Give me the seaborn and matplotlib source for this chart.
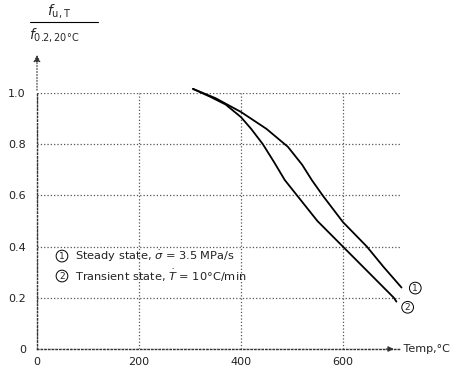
import numpy as np
import pandas as pd
import matplotlib
matplotlib.use("Agg")
import matplotlib.pyplot as plt
import seaborn as sns

# dados
temp_steady = [306, 350, 400, 450, 492, 520, 539, 561, 600, 647, 680, 715]
fu_steady = [1.016, 0.98, 0.926, 0.86, 0.79, 0.72, 0.66, 0.598, 0.496, 0.40, 0.32, 0.24]

temp_trans = [306, 340, 370, 400, 420, 443, 465, 486, 510, 550, 600, 650, 700, 705]
fu_trans = [1.016, 0.985, 0.955, 0.906, 0.86, 0.80, 0.73, 0.66, 0.60, 0.50, 0.40, 0.30, 0.20, 0.185]

x_ticks = [0, 200, 400, 600]
y_ticks = [0, 0.2, 0.4, 0.6, 0.8, 1.0]
y_labels = ["0", "0.2", "0.4", "0.6", "0.8", "1.0"]

df = pd.concat([
    pd.DataFrame({"temp": temp_steady, "fu": fu_steady, "curva": "1"}),
    pd.DataFrame({"temp": temp_trans, "fu": fu_trans, "curva": "2"}),
])

sns.set_style("white")
plt.rcParams["font.family"] = ["DejaVu Sans"]

fig = plt.figure(figsize=(4.52, 3.74), dpi=100)
ax = fig.add_axes([37 / 452, 25 / 374, 363 / 452, 256 / 374])

sns.lineplot(data=df, x="temp", y="fu", hue="curva", palette=["black", "black"],
             linewidth=1.3, legend=False, ax=ax, sort=False, clip_on=False)

ax.set_xlim(0, 712)
ax.set_ylim(0, 1.0)
ax.set_xticks(x_ticks)
ax.set_yticks(y_ticks)
ax.set_yticklabels(y_labels)
ax.set_xlabel("")
ax.set_ylabel("")
ax.tick_params(axis="x", length=0, pad=6, labelsize=8, colors="#222222")
ax.tick_params(axis="y", length=4, width=0.8, pad=4, labelsize=8, colors="#222222")
ax.grid(True, color="#555555", linestyle=":", linewidth=0.9)

for s in ["top", "right"]:
    ax.spines[s].set_visible(False)
for s in ["left", "bottom"]:
    ax.spines[s].set_linestyle(":")
    ax.spines[s].set_color("#333333")
    ax.spines[s].set_linewidth(1.0)

# setas dos eixos
ax.annotate("", xy=(0, 1.16), xytext=(0, 1.0), annotation_clip=False,
            arrowprops=dict(arrowstyle="-|>", color="#333333", lw=0.8,
                            linestyle=":", mutation_scale=10))
ax.annotate("", xy=(705, 0), xytext=(680, 0), annotation_clip=False,
            arrowprops=dict(arrowstyle="-|>", color="#333333", lw=0.8,
                            mutation_scale=8))
ax.text(712, 0, " Temp,°C", fontsize=8, va="center", ha="left", color="#222222")

# rótulo do eixo y em forma de fração
fig.text(47 / 452, 1 - 11 / 374, r"$f_{\mathrm{u,T}}$", fontsize=10, ha="left", va="center")
fig.text(29 / 452, 1 - 35 / 374, r"$f_{\mathrm{0.2,20°C}}$", fontsize=10, ha="left", va="center")
fig.add_artist(plt.Line2D([30 / 452, 98 / 452], [1 - 22 / 374, 1 - 22 / 374],
                          color="black", lw=0.8))

# legenda escrita
circ = dict(boxstyle="circle,pad=0.15", fc="white", ec="black", lw=0.7)
ax.text(49, 0.363, "1", fontsize=6.5, ha="center", va="center", bbox=circ)
ax.text(74, 0.363, r"Steady state, $\dot{\sigma}$ = 3.5 MPa/s", fontsize=8.2,
        ha="left", va="center", color="#222222")
ax.text(49, 0.285, "2", fontsize=6.5, ha="center", va="center", bbox=circ)
ax.text(74, 0.285, r"Transient state, $\dot{T}$ = 10°C/min", fontsize=8.2,
        ha="left", va="center", color="#222222")

# números das curvas
ax.text(742, 0.238, "1", fontsize=6.5, ha="center", va="center", bbox=circ, clip_on=False)
ax.text(727, 0.163, "2", fontsize=6.5, ha="center", va="center", bbox=circ, clip_on=False)

fig.savefig("out.png", dpi=100)
